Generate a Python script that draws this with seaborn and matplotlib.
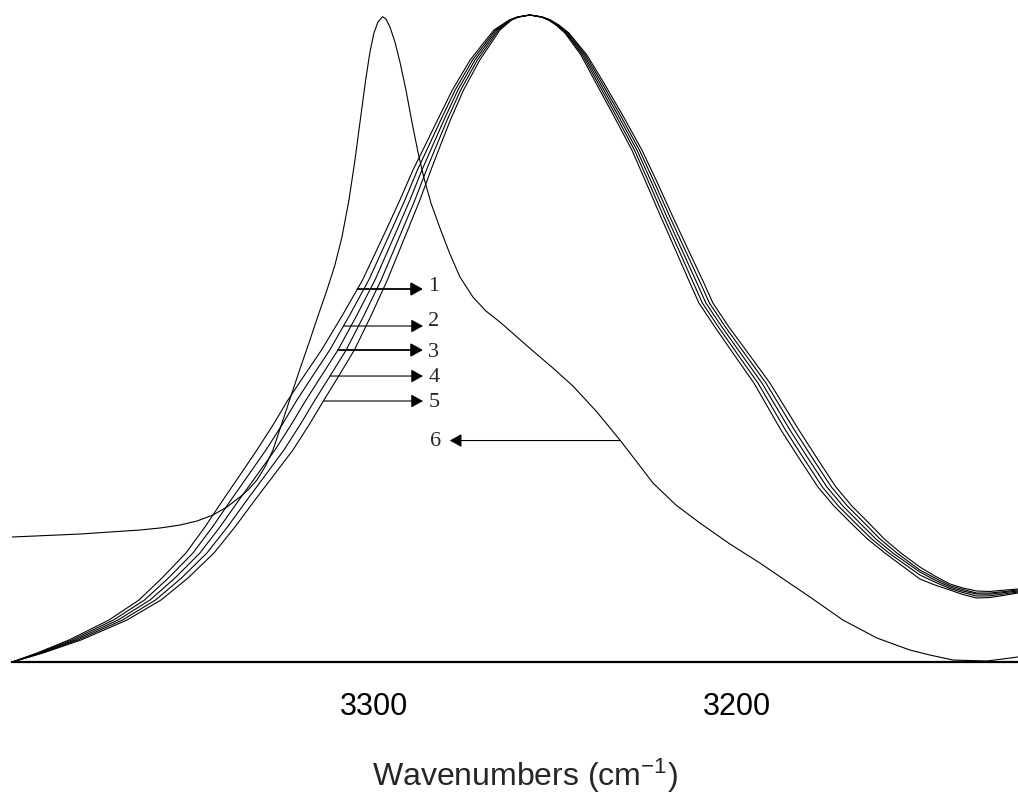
import numpy as np
import matplotlib
matplotlib.use("Agg")
import matplotlib.pyplot as plt
import seaborn as sns

# ---------------- data ----------------
# curves 1-5: rising (high-wavenumber) side, shared absorbance levels
a_rise = [0.0, 0.0139, 0.0340, 0.0649, 0.0958, 0.1298, 0.1685, 0.2087, 0.2504,
          0.2890, 0.3277, 0.3663, 0.4049, 0.4436, 0.4822, 0.5363, 0.5904, 0.6291,
          0.6677, 0.7141, 0.7604, 0.7991, 0.8377, 0.8841, 0.9304, 0.9536, 0.9768,
          0.9923, 0.9969, 1.0]
w_rise_1 = [3400.00, 3393.18, 3384.35, 3373.30, 3365.02, 3358.67, 3352.05, 3346.80,
            3341.83, 3337.13, 3332.44, 3328.02, 3323.88, 3319.29, 3314.61, 3308.81,
            3303.28, 3300.02, 3296.77, 3292.96, 3289.37, 3285.95, 3282.58, 3278.50,
            3273.58, 3270.32, 3267.01, 3262.78, 3260.55, 3257.07]
w_rise_2 = [3400.00, 3392.76, 3383.52, 3372.06, 3363.50, 3356.88, 3350.11, 3344.73,
            3339.62, 3334.79, 3329.96, 3325.54, 3321.40, 3316.89, 3312.34, 3306.82,
            3301.57, 3298.42, 3295.28, 3291.58, 3288.13, 3284.90, 3281.69, 3277.72,
            3272.91, 3269.77, 3266.59, 3262.62, 3260.46, 3257.07]
w_rise_3 = [3400.00, 3392.35, 3382.69, 3370.82, 3361.98, 3355.08, 3348.18, 3342.66,
            3337.41, 3332.44, 3327.47, 3323.05, 3318.91, 3314.49, 3310.08, 3304.83,
            3299.86, 3296.82, 3293.79, 3290.20, 3286.89, 3283.85, 3280.81, 3276.95,
            3272.25, 3269.22, 3266.18, 3262.45, 3260.38, 3257.07]
w_rise_4 = [3400.00, 3391.94, 3381.86, 3369.58, 3360.46, 3353.29, 3346.25, 3340.59,
            3335.20, 3330.09, 3324.99, 3320.57, 3316.43, 3312.09, 3307.82, 3302.84,
            3298.15, 3295.22, 3292.30, 3288.82, 3285.65, 3282.80, 3279.93, 3276.18,
            3271.59, 3268.67, 3265.77, 3262.28, 3260.30, 3257.07]
w_rise_5 = [3400.00, 3391.52, 3381.03, 3368.34, 3358.94, 3351.49, 3344.31, 3338.52,
            3332.99, 3327.75, 3322.50, 3318.08, 3313.94, 3309.69, 3305.55, 3300.85,
            3296.44, 3293.62, 3290.81, 3287.44, 3284.41, 3281.75, 3279.04, 3275.40,
            3270.92, 3268.12, 3265.35, 3262.12, 3260.21, 3257.07]

# curves 1-5: falling (low-wavenumber) side, shared absorbance levels
a_fall = [0.9969, 0.9923, 0.9845, 0.9722, 0.9382, 0.8949, 0.8454, 0.7913, 0.7403,
          0.6878, 0.6368, 0.5858, 0.5549, 0.5178, 0.4745, 0.4312, 0.3586, 0.3153,
          0.2705, 0.2411, 0.2148, 0.1901, 0.1685]
w_fall_1 = [3253.93, 3251.96, 3249.88, 3247.40, 3242.99, 3238.84, 3234.04, 3228.91,
            3224.94, 3220.90, 3216.87, 3212.89, 3210.41, 3205.99, 3200.64, 3195.22,
            3187.76, 3182.79, 3177.55, 3173.13, 3168.44, 3163.86, 3159.06]
w_fall_2 = [3253.84, 3251.82, 3249.68, 3247.13, 3242.57, 3238.29, 3233.41, 3228.22,
            3224.16, 3220.07, 3215.98, 3211.93, 3209.45, 3205.03, 3199.59, 3194.11,
            3186.52, 3181.55, 3176.31, 3171.89, 3167.20, 3162.70, 3157.95]
w_fall_3 = [3253.76, 3251.68, 3249.48, 3246.85, 3242.16, 3237.74, 3232.77, 3227.53,
            3223.39, 3219.24, 3215.10, 3210.96, 3208.48, 3204.06, 3198.54, 3193.01,
            3185.28, 3180.31, 3175.07, 3170.65, 3165.96, 3161.54, 3156.85]
w_fall_4 = [3253.68, 3251.54, 3249.28, 3246.57, 3241.75, 3237.19, 3232.14, 3226.84,
            3222.62, 3218.41, 3214.22, 3209.99, 3207.51, 3203.09, 3197.49, 3191.91,
            3184.04, 3179.07, 3173.83, 3169.41, 3164.72, 3160.38, 3155.75]
w_fall_5 = [3253.59, 3251.40, 3249.08, 3246.30, 3241.33, 3236.64, 3231.50, 3226.15,
            3221.84, 3217.58, 3213.33, 3209.03, 3206.55, 3202.13, 3196.44, 3190.80,
            3182.80, 3177.83, 3172.59, 3168.17, 3163.48, 3159.22, 3154.64]

# curves 1-5: tail at the low-wavenumber end, shared wavenumbers
w_tail = [3149.40, 3145.25, 3141.10, 3137.52, 3133.70, 3130.07, 3127.30, 3122.30]
a_tail_1 = [0.1283, 0.1190, 0.1113, 0.1043, 0.0989, 0.0997, 0.1020, 0.1066]
a_tail_2 = [0.1345, 0.1236, 0.1136, 0.1074, 0.1020, 0.1023, 0.1043, 0.1082]
a_tail_3 = [0.1391, 0.1267, 0.1159, 0.1097, 0.1051, 0.1048, 0.1066, 0.1097]
a_tail_4 = [0.1422, 0.1298, 0.1182, 0.1121, 0.1066, 0.1066, 0.1082, 0.1113]
a_tail_5 = [0.1468, 0.1329, 0.1206, 0.1144, 0.1097, 0.1090, 0.1105, 0.1128]

# curve 6
w_6 = [3400.00, 3381.31, 3364.74, 3359.22, 3353.70, 3349.01, 3344.59, 3340.72,
       3337.13, 3334.65, 3332.44, 3330.23, 3328.02, 3325.26, 3322.78, 3320.57,
       3317.81, 3315.60, 3313.11, 3310.91, 3308.97, 3307.04, 3305.38, 3303.73,
       3302.35, 3301.24, 3300.14, 3299.03, 3297.74, 3296.82, 3295.72, 3294.34,
       3292.96, 3291.30, 3289.65, 3287.99, 3286.33, 3284.40, 3281.92, 3279.16,
       3276.39, 3272.81, 3269.22, 3265.35, 3256.24, 3250.72, 3245.20, 3238.57,
       3232.22, 3227.53, 3223.11, 3216.76, 3210.13, 3201.85, 3193.57, 3186.67,
       3179.76, 3170.65, 3161.27, 3152.15, 3146.63, 3140.28, 3130.90, 3122.33]
a_6 = [0.1932, 0.1978, 0.2040, 0.2071, 0.2117, 0.2179, 0.2272, 0.2396,
       0.2550, 0.2674, 0.2813, 0.3014, 0.3277, 0.3740, 0.4158, 0.4529,
       0.4977, 0.5348, 0.5750, 0.6136, 0.6569, 0.7141, 0.7759, 0.8454,
       0.9026, 0.9428, 0.9722, 0.9892, 0.9974, 0.9938, 0.9815, 0.9583,
       0.9274, 0.8841, 0.8346, 0.7883, 0.7481, 0.7094, 0.6708, 0.6306,
       0.5951, 0.5641, 0.5425, 0.5255, 0.4807, 0.4544, 0.4266, 0.3864,
       0.3431, 0.3091, 0.2767, 0.2427, 0.2148, 0.1824, 0.1530, 0.1267,
       0.1005, 0.0649, 0.0371, 0.0185, 0.0108, 0.0031, 0.0015, 0.0077]

curve_labels = ["1", "2", "3", "4", "5", "6"]
major_ticks = [3400, 3300, 3200]
major_tick_labels = ["", "3300", "3200"]
minor_ticks = [3380, 3360, 3340, 3320, 3280, 3260, 3240, 3220, 3180, 3160, 3140]
x_label = "Wavenumbers (cm$^{-1}$)"

# ---------------- figure ----------------
sns.set_style("white")
plt.rcParams["font.family"] = ["Liberation Sans", "DejaVu Sans"]
plt.rcParams["mathtext.fontset"] = "custom"
plt.rcParams["mathtext.rm"] = "Liberation Sans"
plt.rcParams["mathtext.it"] = "Liberation Sans:italic"
plt.rcParams["mathtext.bf"] = "Liberation Sans:bold"

fig = plt.figure(figsize=(10.18, 8.01), dpi=100)
ax = fig.add_axes([0.01208, 0.17353, 0.98792, 0.82647])

rises = [w_rise_1, w_rise_2, w_rise_3, w_rise_4, w_rise_5]
falls = [w_fall_1, w_fall_2, w_fall_3, w_fall_4, w_fall_5]
tails = [a_tail_1, a_tail_2, a_tail_3, a_tail_4, a_tail_5]

for wr, wf, at in zip(rises, falls, tails):
    w = np.array(list(wr) + list(wf) + list(w_tail))
    a = np.array(list(a_rise) + list(a_fall) + list(at))
    sns.lineplot(x=w, y=a, ax=ax, color="black", linewidth=0.8,
                 sort=False, estimator=None)

sns.lineplot(x=np.array(w_6), y=np.array(a_6), ax=ax, color="black",
             linewidth=0.8, sort=False, estimator=None)

ax.set_xlim(3400, 3122.3)
ax.set_ylim(0, 1.0232)

# arrows & labels for curves 1-5 (each starts on the rising side of its curve)
arrow_levels = [0.5765, 0.5193, 0.4822, 0.4420, 0.4034]
label_levels = [0.5811, 0.5270, 0.4776, 0.4405, 0.4008]
arrow_lw = [1.3, 0.8, 1.3, 0.8, 0.8]
head_w = 3286.6
astyle = "-|>,head_length=0.45,head_width=0.25"
for i, wr in enumerate(rises):
    w_start = np.interp(arrow_levels[i], a_rise, wr)
    ax.annotate("", xy=(head_w, arrow_levels[i]), xytext=(w_start, arrow_levels[i]),
                arrowprops=dict(arrowstyle=astyle, color="black", lw=arrow_lw[i],
                                mutation_scale=16, shrinkA=0, shrinkB=0))
    ax.text(3283.6, label_levels[i], curve_labels[i], ha="center", va="center",
            fontsize=16, family=["Liberation Serif", "DejaVu Serif"])

# arrow for curve 6 (starts on its low-wavenumber side)
lvl6 = 0.3423
w6_arr = np.array(w_6)
a6_arr = np.array(a_6)
idx = int(np.argmax(a6_arr))
w6_start = np.interp(lvl6, a6_arr[idx:][::-1], w6_arr[idx:][::-1])
ax.annotate("", xy=(3279.2, lvl6), xytext=(w6_start, lvl6),
            arrowprops=dict(arrowstyle=astyle, color="black", lw=0.8,
                            mutation_scale=16, shrinkA=0, shrinkB=0))
ax.text(3283.0, 0.3405, curve_labels[5], ha="center", va="center",
        fontsize=16, family=["Liberation Serif", "DejaVu Serif"])

# axes styling
for s in ["left", "right", "top"]:
    ax.spines[s].set_visible(False)
ax.spines["bottom"].set_linewidth(1.6)
ax.spines["bottom"].set_color("black")
ax.set_yticks([])
ax.set_xticks(major_ticks)
ax.set_xticklabels(major_tick_labels)
ax.set_xticks(minor_ticks, minor=True)
ax.tick_params(axis="x", which="major", length=9.4, width=1.0, direction="out",
               pad=12, labelsize=22, colors="black")
ax.tick_params(axis="x", which="minor", length=4.3, width=0.8, direction="out",
               colors="black")
ax.set_xlabel(x_label, fontsize=23)
ax.xaxis.set_label_coords(0.510, -0.143)
ax.set_ylabel("")

fig.savefig("out.png", dpi=100)
